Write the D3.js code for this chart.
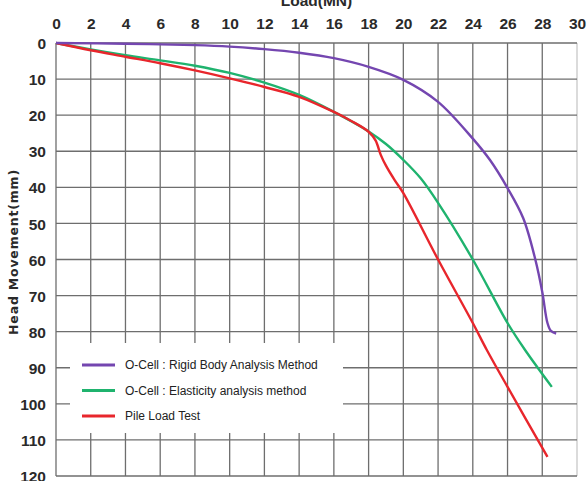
<!DOCTYPE html>
<html><head><meta charset="utf-8">
<script src="https://cdn.jsdelivr.net/npm/d3@7"></script>
<style>html,body{margin:0;padding:0;background:#fff;overflow:hidden}</style>
</head><body>
<svg id="c" width="587" height="481"></svg>
<script>
const xTicks = [0,2,4,6,8,10,12,14,16,18,20,22,24,26,28,30];
const yTicks = [0,10,20,30,40,50,60,70,80,90,100,110,120];
const seriesNames = ["O-Cell : Rigid Body Analysis Method","O-Cell : Elasticity analysis method","Pile Load Test"];
const seriesColors = ["#7446b0","#1fb36e","#e8262c"];
const rigidLoad = [0,4,8,10,12,14,16,18,20,22,24,25,26,26.9,27.6,28,28.3,28.5,28.8];
const rigidMove = [0,0.2,0.6,1.0,1.7,2.7,4.2,6.6,10.2,16.3,26.5,32.5,40.2,48.5,60,69,77.6,79.8,80.5];
const elastLoad = [0,2,4,6,8,10,12,14,16,18,19,20,21,22,24,26,27,28.55];
const elastMove = [0,1.8,3.4,4.8,6.3,8.3,11,14.4,19.1,24.5,28,32.4,37.5,44.3,60,77.6,85,95.3];
const pileLoad = [0,2,4,6,8,10,12,14,16,17,18,18.4,18.7,19,19.5,20,22,24,24.8,26,28.3];
const pileMove = [0,2,3.8,5.6,7.6,9.8,12.2,14.9,19.1,21.6,24.6,27,31,34,38,41.6,60,77.6,85,95.3,114.7];

const svg = d3.select("#c");
const L=56, R=577, T=43, B=476;
const x = d3.scaleLinear().domain([0,30]).range([L,R]);
const y = d3.scaleLinear().domain([0,120]).range([T,B]);
const tickFont = "Liberation Sans Narrow, Arial Narrow, Liberation Sans, sans-serif";

// grid
const g = svg.append("g");
g.selectAll(".vx").data(xTicks).enter().append("line")
  .attr("x1",d=>x(d)).attr("x2",d=>x(d)).attr("y1",T).attr("y2",B)
  .attr("stroke",d=>d===30?"#c8c8c8":"#6e6e6e").attr("stroke-width",1.3);
g.selectAll(".hy").data(yTicks).enter().append("line")
  .attr("x1",L).attr("x2",R).attr("y1",d=>y(d)).attr("y2",d=>y(d))
  .attr("stroke","#6e6e6e").attr("stroke-width",1.3);

// axes labels (d3 axes, no lines)
const xAxis = svg.append("g").attr("transform",`translate(0,${T-14})`)
  .call(d3.axisTop(x).tickValues(xTicks).tickSize(0).tickPadding(0));
const yAxis = svg.append("g").attr("transform",`translate(${L-10},0)`)
  .call(d3.axisLeft(y).tickValues(yTicks).tickSize(0).tickPadding(0));
[xAxis,yAxis].forEach(a=>{
  a.select(".domain").remove();
  a.selectAll("text").attr("font-family",tickFont)
   .attr("font-weight","bold").attr("font-size",15.5).attr("fill","#2a2a2a");
});
yAxis.selectAll("text").attr("dy","0.36em");

svg.append("text").attr("x",(L+R)/2).attr("y",6).attr("text-anchor","middle")
  .attr("font-family",tickFont).attr("font-weight","bold")
  .attr("font-size",15.5).attr("fill","#2a2a2a").text("Load(MN)");
svg.append("text").attr("transform","translate(18,252) rotate(-90)").attr("text-anchor","middle")
  .attr("font-family","DejaVu Sans, sans-serif").attr("font-weight","bold")
  .attr("font-size",12.5).attr("letter-spacing",0.8).attr("fill","#2a2a2a").text("Head Movement(mm)");

// legend background
svg.append("rect").attr("x",70).attr("y",343).attr("width",273).attr("height",90).attr("fill","#fff");

// series
const line = d3.line().x(d=>x(d[0])).y(d=>y(d[1])).curve(d3.curveCatmullRom.alpha(0.5));
const data = [d3.zip(rigidLoad,rigidMove), d3.zip(elastLoad,elastMove), d3.zip(pileLoad,pileMove)];
const order=[1,2,0];
order.forEach(i=>{
  svg.append("path").datum(data[i]).attr("d",line).attr("fill","none")
    .attr("stroke",seriesColors[i]).attr("stroke-width",2.4).attr("stroke-linejoin","round");
});

// legend
const lg = svg.append("g");
seriesNames.forEach((n,i)=>{
  const yy = 365 + i*25.5;
  lg.append("line").attr("x1",82).attr("x2",115).attr("y1",yy).attr("y2",yy)
    .attr("stroke",seriesColors[i]).attr("stroke-width",3.2);
  lg.append("text").attr("x",125).attr("y",yy+4).attr("font-family","Liberation Sans, Arial, sans-serif")
    .attr("font-size",12).attr("fill","#222").text(n);
});
</script>
</body></html>
